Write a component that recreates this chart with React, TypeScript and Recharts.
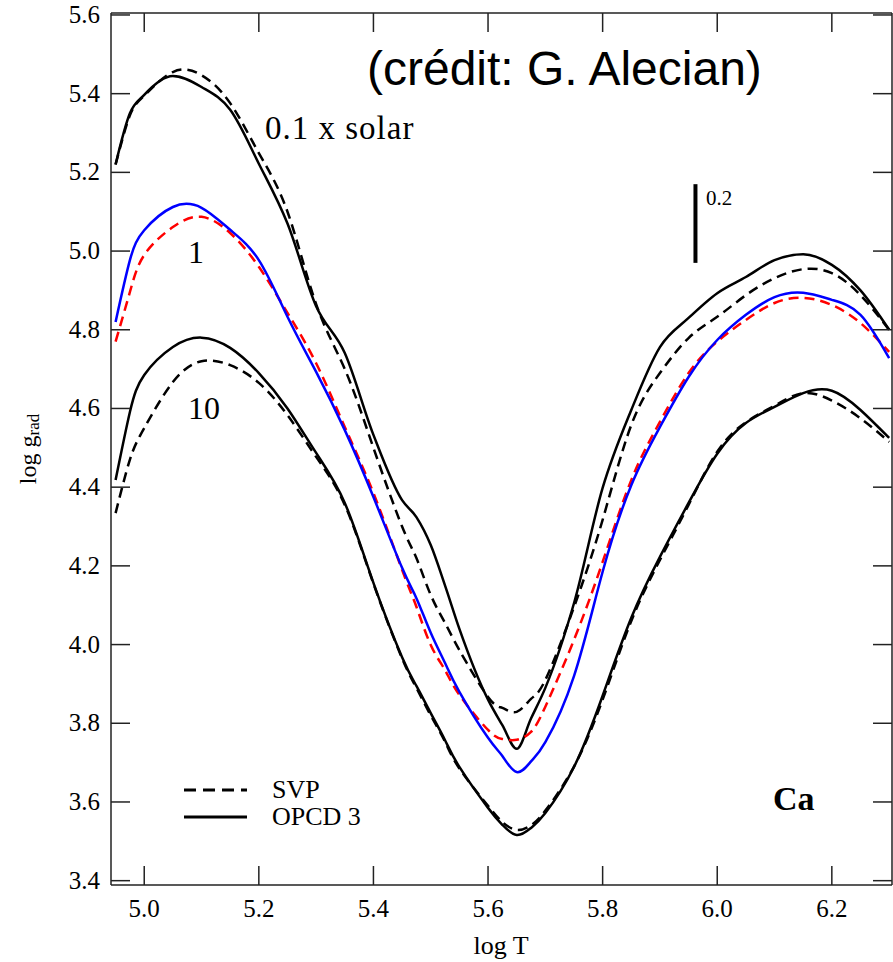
import React from 'react';
import { LineChart, Line, XAxis, YAxis, ReferenceLine } from 'recharts';

// log T grid shared by all curves
const logT = [
  4.95, 4.975, 5.0, 5.05, 5.1, 5.15, 5.2, 5.25, 5.3, 5.35, 5.4, 5.45, 5.475, 5.5, 5.525,
  5.55, 5.6, 5.625, 5.65, 5.675, 5.7, 5.75, 5.8, 5.85, 5.9, 5.95, 6.0, 6.05, 6.1, 6.15,
  6.2, 6.25, 6.3,
];

// 0.1 x solar
const svp01 = [
  5.22, 5.345, 5.395, 5.455, 5.447, 5.376, 5.249, 5.1, 4.865, 4.7, 4.5, 4.3, 4.22, 4.126, 4.055,
  3.986, 3.867, 3.839, 3.829, 3.862, 3.91, 4.095, 4.317, 4.558, 4.69, 4.779, 4.833, 4.888, 4.931, 4.954,
  4.944, 4.888, 4.8,
];
const opcd01 = [
  5.22, 5.35, 5.397, 5.445, 5.417, 5.359, 5.222, 5.07, 4.86, 4.741, 4.533, 4.367, 4.324, 4.253, 4.15,
  4.04, 3.86, 3.795, 3.735, 3.812, 3.89, 4.105, 4.398, 4.596, 4.756, 4.83, 4.893, 4.934, 4.977, 4.992,
  4.965, 4.9, 4.8,
];

// solar
const svp1 = [
  4.77, 4.896, 4.99, 5.061, 5.087, 5.046, 4.96, 4.843, 4.715, 4.553, 4.385, 4.19, 4.096, 3.999, 3.935,
  3.872, 3.783, 3.76, 3.758, 3.778, 3.842, 4.012, 4.21, 4.418, 4.566, 4.69, 4.77, 4.825, 4.868, 4.881,
  4.863, 4.817, 4.744,
];
const opcd1 = [
  4.82, 4.977, 5.053, 5.112, 5.11, 5.054, 4.977, 4.833, 4.693, 4.545, 4.375, 4.195, 4.118, 4.03, 3.953,
  3.88, 3.763, 3.717, 3.676, 3.703, 3.752, 3.92, 4.185, 4.405, 4.553, 4.68, 4.774, 4.838, 4.883, 4.894,
  4.876, 4.838, 4.728,
];

// 10 x solar
const svp10 = [
  4.334, 4.47, 4.55, 4.667, 4.72, 4.71, 4.665, 4.583, 4.477, 4.355, 4.155, 3.965, 3.89, 3.82, 3.753,
  3.685, 3.59, 3.549, 3.529, 3.541, 3.578, 3.69, 3.86, 4.06, 4.215, 4.355, 4.49, 4.565, 4.607, 4.639,
  4.62, 4.575, 4.515,
];
const opcd10 = [
  4.418, 4.591, 4.685, 4.756, 4.78, 4.754, 4.69, 4.6, 4.487, 4.36, 4.157, 3.968, 3.895, 3.826, 3.757,
  3.689, 3.585, 3.542, 3.516, 3.534, 3.572, 3.689, 3.87, 4.068, 4.223, 4.36, 4.485, 4.563, 4.604, 4.639,
  4.645, 4.596, 4.525,
];

const xTicks = [5.0, 5.2, 5.4, 5.6, 5.8, 6.0, 6.2];
const yTicks = [3.4, 3.6, 3.8, 4.0, 4.2, 4.4, 4.6, 4.8, 5.0, 5.2, 5.4, 5.6];

// 0.2 dex scale bar
const barT = 5.962;
const barLow = 4.97;
const barHigh = 5.17;

const data = logT.map((t, i) => ({
  t,
  svp01: svp01[i],
  opcd01: opcd01[i],
  svp1: svp1[i],
  opcd1: opcd1[i],
  svp10: svp10[i],
  opcd10: opcd10[i],
}));

const SERIF = 'Liberation Serif';
const SANS = 'Liberation Sans';
const AXIS = '#222';
const TICK = 19;
const DASH = '10 6';

const BottomTick = ({ x, y, payload }: any) => (
  <g>
    <line x1={x} x2={x} y1={y} y2={y - TICK} stroke={AXIS} strokeWidth={1.5} />
    <text x={x} y={y + 32} textAnchor="middle" fontFamily={SERIF} fontSize={25} fill="#000">
      {payload.value.toFixed(1)}
    </text>
  </g>
);

const LeftTick = ({ x, y, payload }: any) => (
  <g>
    <line x1={x} x2={x + TICK} y1={y} y2={y} stroke={AXIS} strokeWidth={1.5} />
    <text x={x - 11} y={y + 8} textAnchor="end" fontFamily={SERIF} fontSize={25} fill="#000">
      {payload.value.toFixed(1)}
    </text>
  </g>
);

const TopTick = ({ x, y }: any) => (
  <line x1={x} x2={x} y1={y} y2={y + TICK} stroke={AXIS} strokeWidth={1.5} />
);

const RightTick = ({ x, y }: any) => (
  <line x1={x} x2={x - TICK} y1={y} y2={y} stroke={AXIS} strokeWidth={1.5} />
);

const Note = ({ x, y, size, bold, font, spacing, children }: any) => (
  <text
    x={x}
    y={y}
    fontFamily={font || SERIF}
    fontSize={size}
    fontWeight={bold ? 'bold' : 'normal'}
    letterSpacing={spacing || 0}
    fill="#000"
  >
    {children}
  </text>
);

export default function App() {
  const axisLine = { stroke: AXIS, strokeWidth: 1.5 };
  return (
    <div style={{ position: 'absolute', left: 0, top: 0, background: '#fff', fontFamily: SERIF }}>
      <LineChart width={893} height={962} data={data} margin={{ top: 12, right: 0, bottom: 0, left: 0 }}>
        <XAxis
          dataKey="t"
          type="number"
          domain={[4.942, 6.305]}
          allowDataOverflow
          ticks={xTicks}
          height={77}
          tickSize={0}
          tickMargin={0}
          tickLine={false}
          axisLine={axisLine}
          tick={BottomTick}
        />
        <XAxis
          xAxisId="top"
          orientation="top"
          dataKey="t"
          type="number"
          domain={[4.942, 6.305]}
          allowDataOverflow
          ticks={xTicks}
          height={1}
          tickSize={0}
          tickMargin={0}
          tickLine={false}
          axisLine={axisLine}
          tick={TopTick}
        />
        <YAxis
          type="number"
          domain={[3.389, 5.605]}
          allowDataOverflow
          ticks={yTicks}
          width={111}
          tickSize={0}
          tickMargin={0}
          tickLine={false}
          axisLine={axisLine}
          tick={LeftTick}
        />
        <YAxis
          yAxisId="right"
          orientation="right"
          type="number"
          domain={[3.389, 5.605]}
          allowDataOverflow
          ticks={yTicks}
          width={1}
          tickSize={0}
          tickMargin={0}
          tickLine={false}
          axisLine={axisLine}
          tick={RightTick}
        />

        <Line type="natural" dataKey="svp01" stroke="#000" strokeWidth={2.5} strokeDasharray={DASH} dot={false} isAnimationActive={false} />
        <Line type="monotone" dataKey="opcd01" stroke="#000" strokeWidth={2.5} dot={false} isAnimationActive={false} />
        <Line type="natural" dataKey="svp10" stroke="#000" strokeWidth={2.5} strokeDasharray={DASH} dot={false} isAnimationActive={false} />
        <Line type="natural" dataKey="opcd10" stroke="#000" strokeWidth={2.5} dot={false} isAnimationActive={false} />
        <Line type="natural" dataKey="svp1" stroke="#ff0000" strokeWidth={2.5} strokeDasharray={DASH} dot={false} isAnimationActive={false} />
        <Line type="natural" dataKey="opcd1" stroke="#0000ff" strokeWidth={2.5} dot={false} isAnimationActive={false} />

        <ReferenceLine
          segment={[{ x: barT, y: barLow }, { x: barT, y: barHigh }]}
          stroke="#000"
          strokeWidth={4}
        />

        {/* annotations */}
        <Note x={367} y={85} size={48} font={SANS}>(crédit: G. Alecian)</Note>
        <Note x={265} y={139} size={33} spacing={1}>0.1 x solar</Note>
        <Note x={188} y={263} size={32}>1</Note>
        <Note x={188} y={419} size={32}>10</Note>
        <Note x={706} y={205} size={21}>0.2</Note>
        <Note x={773} y={810} size={34} bold>Ca</Note>

        {/* legend */}
        <line x1={184} x2={247} y1={790} y2={790} stroke="#000" strokeWidth={3} strokeDasharray="12 7" />
        <line x1={184} x2={247} y1={817} y2={817} stroke="#000" strokeWidth={3} />
        <Note x={272} y={798} size={26}>SVP</Note>
        <Note x={272} y={825} size={26}>OPCD 3</Note>

        {/* axis titles */}
        <text x={501} y={954} textAnchor="middle" fontFamily={SERIF} fontSize={26} fill="#000">log T</text>
        <text
          x={36}
          y={449}
          textAnchor="middle"
          transform="rotate(-90 36 449)"
          fontFamily={SERIF}
          fontSize={24}
          fill="#000"
        >
          log g<tspan fontSize={17} dy={3}>rad</tspan>
        </text>
      </LineChart>
    </div>
  );
}
